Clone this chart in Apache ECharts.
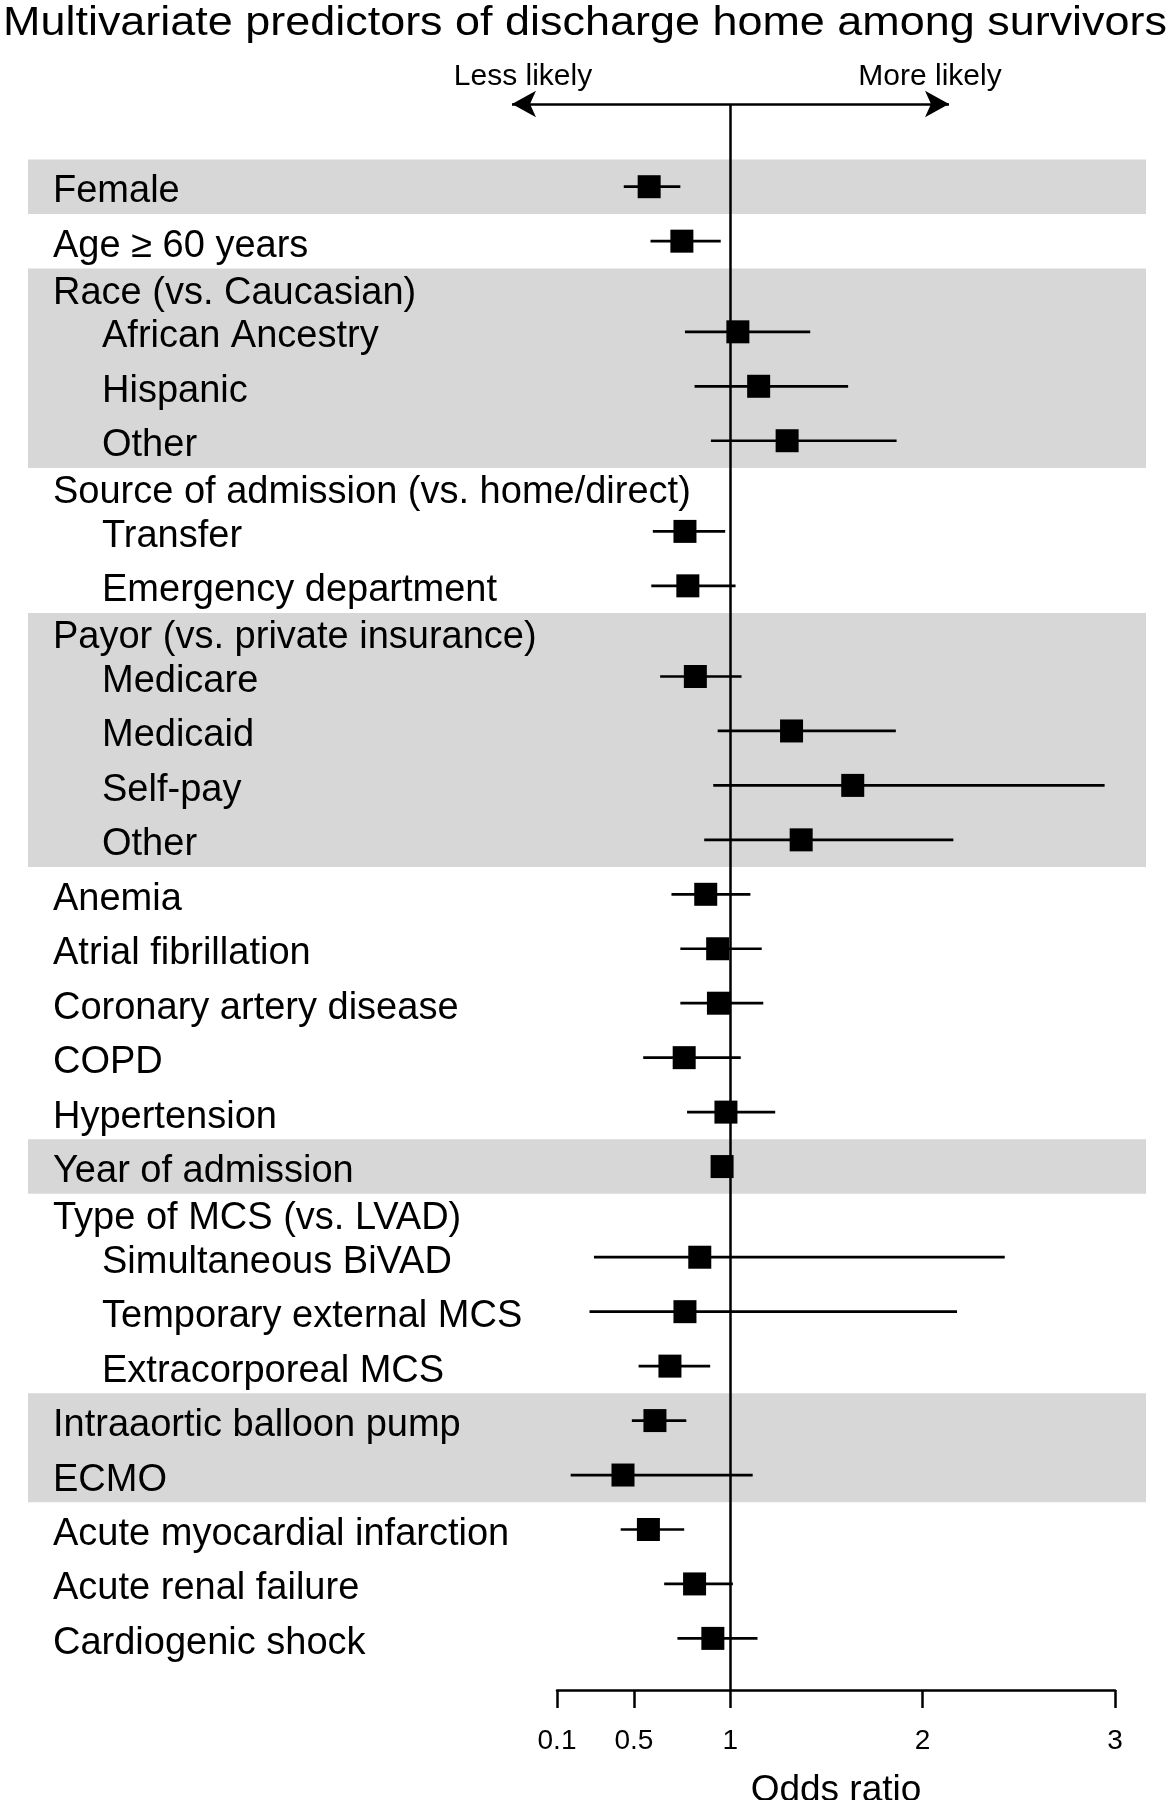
<!DOCTYPE html>
<html>
<head>
<meta charset="utf-8">
<script src="https://cdn.jsdelivr.net/npm/echarts@6/dist/echarts.min.js"></script>
<style>
  html, body { margin: 0; padding: 0; background: #fff; }
  #chart { width: 1170px; height: 1800px; }
</style>
</head>
<body>
<div id="chart"></div>
<script>
// ---------------- data ----------------
const TITLE = 'Multivariate predictors of discharge home among survivors';
const rowLabels = [
  'Female', 'Age \u2265 60 years',
  'Race (vs. Caucasian)', 'African Ancestry', 'Hispanic', 'Other',
  'Source of admission (vs. home/direct)', 'Transfer', 'Emergency department',
  'Payor (vs. private insurance)', 'Medicare', 'Medicaid', 'Self-pay', 'Other',
  'Anemia', 'Atrial fibrillation', 'Coronary artery disease', 'COPD', 'Hypertension',
  'Year of admission',
  'Type of MCS (vs. LVAD)', 'Simultaneous BiVAD', 'Temporary external MCS', 'Extracorporeal MCS',
  'Intraaortic balloon pump', 'ECMO',
  'Acute myocardial infarction', 'Acute renal failure', 'Cardiogenic shock'
];
const indentLevel = [0,0, 0,1,1,1, 0,1,1, 0,1,1,1,1, 0,0,0,0,0, 0, 0,1,1,1, 0,0, 0,0,0];
const oddsRatio = [0.579, 0.749, null, 1.04, 1.148, 1.296, null, 0.765, 0.78,
  null, 0.819, 1.319, 1.637, 1.369, 0.873, 0.935, 0.939, 0.761, 0.978, 0.958,
  null, 0.842, 0.765, 0.687, 0.609, 0.443, 0.575, 0.815, 0.91];
const ciLow = [0.447, 0.586, null, 0.765, 0.815, 0.90, null, 0.598, 0.59,
  null, 0.636, 0.935, 0.912, 0.865, 0.695, 0.741, 0.741, 0.548, 0.776, 0.94,
  null, 0.292, 0.269, 0.524, 0.489, 0.171, 0.431, 0.657, 0.726];
const ciHigh = [0.741, 0.951, null, 1.416, 1.613, 1.865, null, 0.974, 1.028,
  null, 1.059, 1.861, 2.946, 2.16, 1.105, 1.164, 1.172, 1.055, 1.234, 0.98,
  null, 2.427, 2.179, 0.896, 0.772, 1.117, 0.761, 1.014, 1.142];
const rowGroup = [0,1, 2,2,2,2, 3,3,3, 4,4,4,4,4, 5,5,5,5,5, 6, 7,7,7,7, 8,8, 9,9,9];
const xTicks = [0.1, 0.5, 1, 2, 3];
const xName = 'Odds ratio';
const lessText = 'Less likely';
const moreText = 'More likely';

// ---------------- layout helpers ----------------
const FONT = '"Liberation Sans", Arial, Helvetica, sans-serif';
const pos = [];
let p = 0;
for (let i = 0; i < rowLabels.length; i++) {
  if (i > 0) {
    const curHeader = oddsRatio[i] === null;
    const prevHeader = oddsRatio[i - 1] === null;
    p += curHeader ? 0.865 : (prevHeader ? 0.8 : 1);
  }
  pos.push(+p.toFixed(4));
}
const Y_MIN = -1.519;
const Y_MAX = 27.608;
const labelByPos = {};
pos.forEach((v, i) => { labelByPos[v.toFixed(4)] = i; });

// shaded bands for even groups
const bands = [];
const groups = [...new Set(rowGroup)];
groups.forEach(g => {
  if (g % 2 !== 0) return;
  const idx = rowGroup.map((gg, i) => gg === g ? i : -1).filter(i => i >= 0);
  const first = idx[0], last = idx[idx.length - 1];
  const top = first === 0 ? pos[0] - 0.5 : pos[first - 1] + 0.5;
  const bottom = pos[last] + 0.5;
  bands.push([{ yAxis: top }, { yAxis: bottom }]);
});

const ciData = [], pointData = [];
oddsRatio.forEach((v, i) => {
  if (v === null) return;
  ciData.push([ciLow[i], ciHigh[i], pos[i]]);
  pointData.push([v, pos[i]]);
});

// title width stretch
const ctx = document.createElement('canvas').getContext('2d');
ctx.font = '41px "Liberation Sans"';
const titleW = ctx.measureText(TITLE).width;
const titleScale = 1164 / titleW;

const chart = echarts.init(document.getElementById('chart'), null, { renderer: 'canvas' });
const TOP = 104, BOTTOM = 110;

chart.setOption({
  animation: false,
  backgroundColor: '#ffffff',
  grid: [
    { left: 28, right: 24, top: TOP, bottom: BOTTOM, outerBoundsMode: 'none', containLabel: false },
    { left: 557, right: 55, top: TOP, bottom: BOTTOM, outerBoundsMode: 'none', containLabel: false }
  ],
  xAxis: [
    { gridIndex: 0, type: 'value', min: 0, max: 1, show: false },
    {
      gridIndex: 1, type: 'value', min: 0.1, max: 3, z: 10,
      axisLine: { show: true, onZero: false, lineStyle: { color: '#000', width: 2.5 } },
      axisTick: { show: true, customValues: xTicks, length: 18, lineStyle: { color: '#000', width: 2.5 } },
      axisLabel: { show: true, customValues: xTicks, margin: 37, color: '#000', fontSize: 28, fontFamily: FONT },
      splitLine: { show: false },
      name: xName, nameLocation: 'middle', nameGap: 82,
      nameTextStyle: { color: '#000', fontSize: 37, fontFamily: FONT }
    }
  ],
  yAxis: [
    {
      gridIndex: 0, type: 'value', inverse: true, min: Y_MIN, max: Y_MAX, z: 10,
      axisLine: { show: false }, axisTick: { show: false }, splitLine: { show: false },
      axisLabel: {
        show: true, customValues: pos, align: 'left', margin: -25,
        color: '#000', fontSize: 38, fontFamily: FONT,
        formatter: function (v) {
          const i = labelByPos[(+v).toFixed(4)];
          if (i === undefined) return '';
          return indentLevel[i] ? '{sub|' + rowLabels[i] + '}' : '{top|' + rowLabels[i] + '}';
        },
        rich: {
          top: { color: '#000', fontSize: 38, fontFamily: FONT, padding: [10, 0, 0, 0] },
          sub: { color: '#000', fontSize: 38, fontFamily: FONT, padding: [10, 0, 0, 49] }
        }
      }
    },
    {
      gridIndex: 1, type: 'value', inverse: true, min: Y_MIN, max: Y_MAX, show: false
    }
  ],
  graphic: [
    {
      type: 'text', x: 585, y: 24, scaleX: titleScale, silent: true,
      style: { text: TITLE, font: '41px ' + FONT, fill: '#000',
        align: 'center', textAlign: 'center', verticalAlign: 'middle', textVerticalAlign: 'middle' }
    },
    {
      type: 'text', x: 523, y: 77, silent: true,
      style: { text: lessText, font: '30px ' + FONT, fill: '#000',
        align: 'center', textAlign: 'center', verticalAlign: 'middle', textVerticalAlign: 'middle' }
    },
    {
      type: 'text', x: 930, y: 77, silent: true,
      style: { text: moreText, font: '30px ' + FONT, fill: '#000',
        align: 'center', textAlign: 'center', verticalAlign: 'middle', textVerticalAlign: 'middle' }
    }
  ],
  series: [
    {
      type: 'line', xAxisIndex: 0, yAxisIndex: 0, data: [], silent: true, clip: false,
      markArea: {
        silent: true,
        itemStyle: { color: '#d7d7d7' },
        data: bands
      },
      markLine: {
        silent: true,
        symbol: ['arrow', 'arrow'],
        symbolSize: [20, 24],
        lineStyle: { color: '#000', width: 2.5, type: 'solid' },
        label: { show: false },
        data: [[{ x: 512, y: TOP }, { x: 949, y: TOP }]]
      },
      z: 1
    },
    {
      type: 'custom', xAxisIndex: 1, yAxisIndex: 1, data: ciData, silent: true,
      encode: { x: [0, 1], y: 2 },
      renderItem: function (params, api) {
        const a = api.coord([api.value(0), api.value(2)]);
        const b = api.coord([api.value(1), api.value(2)]);
        return {
          type: 'line',
          shape: { x1: a[0], y1: a[1], x2: b[0], y2: b[1] },
          style: { stroke: '#000', lineWidth: 2.7 }
        };
      },
      z: 3
    },
    {
      type: 'scatter', xAxisIndex: 1, yAxisIndex: 1, data: pointData, silent: true,
      symbol: 'rect', symbolSize: 23,
      itemStyle: { color: '#000', opacity: 1 },
      markLine: {
        silent: true, symbol: 'none',
        lineStyle: { color: '#000', width: 2.5, type: 'solid' },
        label: { show: false },
        data: [{ xAxis: 1 }]
      },
      z: 4
    }
  ]
});
</script>
</body>
</html>
